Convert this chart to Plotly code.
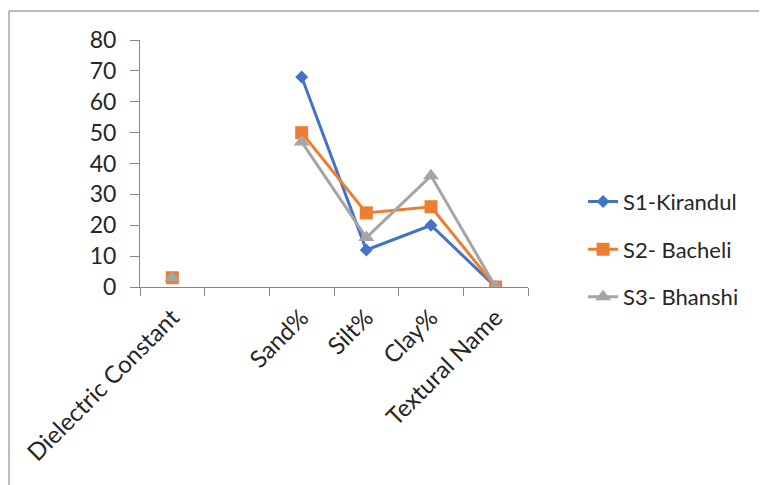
import plotly.graph_objects as go

categories = ["Dielectric Constant", " ", "Sand%", "Silt%", "Clay%", "Textural Name"]
s1_kirandul = [3, None, 68, 12, 20, 0]
s2_bacheli = [3, None, 50, 24, 26, 0]
s3_bhanshi = [3, None, 47, 16, 36, 0]
y_ticks = [0, 10, 20, 30, 40, 50, 60, 70, 80]

series = [
    ("S1-Kirandul", s1_kirandul, "#4472C4", "diamond", 10),
    ("S2- Bacheli", s2_bacheli, "#ED7D31", "square", 13),
    ("S3- Bhanshi", s3_bhanshi, "#A5A5A5", "triangle-up", 14),
]

fig = go.Figure()
for name, vals, color, sym, size in series:
    fig.add_trace(go.Scatter(
        x=categories, y=vals, name=name, mode="lines+markers",
        line=dict(color=color, width=3),
        marker=dict(symbol=sym, size=size, color=color),
        legendgroup=name,
    ))

font = "Lato, Carlito, Calibri, sans-serif"
fig.update_layout(
    width=767, height=485,
    margin=dict(l=132, r=247, t=32, b=206),
    paper_bgcolor="white", plot_bgcolor="white",
    font=dict(family=font, color="#262626"),
    showlegend=True,
    legend=dict(x=1.142, y=0.43, xanchor="left", yanchor="top",
                font=dict(size=22, family=font, color="#262626"),
                tracegroupgap=16, bgcolor="rgba(0,0,0,0)"),
    xaxis=dict(type="category", range=[-0.5, 5.5], showline=True,
               linecolor="#868686", linewidth=1, ticks="outside",
               tickson="boundaries", ticklen=8, tickcolor="#868686",
               tickangle=-45, tickfont=dict(size=24, family=font),
               ticklabelstandoff=6,
               showgrid=False, zeroline=False, automargin=False),
    yaxis=dict(range=[0, 80], tickvals=y_ticks, showline=True,
               linecolor="#868686", linewidth=1, ticks="outside",
               ticklen=9, tickcolor="#868686",
               tickfont=dict(size=23, family=font),
               ticklabelstandoff=9,
               showgrid=False, zeroline=False, automargin=False),
    shapes=[
        dict(type="line", xref="paper", yref="paper",
             x0=-0.3376, x1=1.64, y0=1.117, y1=1.117,
             line=dict(color="#A6A6A6", width=1.5)),
        dict(type="line", xref="paper", yref="paper",
             x0=-0.3376, x1=-0.3376, y0=1.117, y1=-0.84,
             line=dict(color="#A6A6A6", width=1.5)),
    ],
)
fig.write_html("out.html")
